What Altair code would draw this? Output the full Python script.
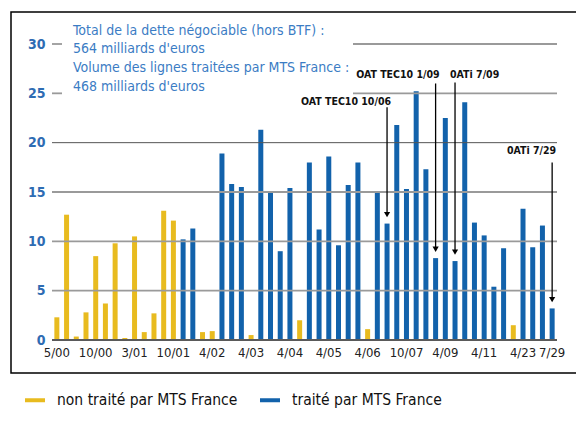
import altair as alt
import pandas as pd

# ---- data ----
values = [2.3, 12.7, 0.35, 2.8, 8.5, 3.7, 9.8, 0.2, 10.5, 0.8, 2.7, 13.1, 12.1,
          10.2, 11.3, 0.8, 0.9, 18.9, 15.8, 15.5, 0.5, 21.3, 15.1, 9.0, 15.4, 2.0,
          18.0, 11.2, 18.6, 9.6, 15.7, 18.0, 1.1, 15.1, 11.8, 21.8, 15.3, 25.2,
          17.3, 8.3, 22.5, 8.0, 24.1, 11.9, 10.6, 5.4, 9.3, 1.5, 13.3, 9.4, 11.6, 3.2]
# 0 = non traité, 1 = traité par MTS France
traded = [0, 0, 0, 0, 0, 0, 0, 0, 0, 0, 0, 0, 0,
          1, 1, 0, 0, 1, 1, 1, 0, 1, 1, 1, 1, 0,
          1, 1, 1, 1, 1, 1, 0, 1, 1, 1, 1, 1,
          1, 1, 1, 1, 1, 1, 1, 1, 1, 0, 1, 1, 1, 1]
status_names = ["non traité par MTS France", "traité par MTS France"]

tick_labels = ["5/00", "10/00", "3/01", "10/01", "4/02", "4/03", "4/04", "4/05",
               "4/06", "10/07", "4/09", "4/11", "4/23", "7/29"]
tick_bars = [0, 4, 8, 12, 16, 20, 24, 28, 32, 36, 40, 44, 48, 51]

ann_labels = ["OAT TEC10 10/06", "OAT TEC10 1/09", "0ATi 7/09", "0ATi 7/29"]
ann_bars = [34, 39, 41, 51]
ann_text_y = [23.8, 26.55, 26.55, 18.85]
ann_line_top = [23.6, 26.0, 26.1, 18.0]
ann_right = [True, True, False, True]

header_lines = ["Total de la dette négociable (hors BTF) :",
                "564 milliards d'euros",
                "Volume des lignes traitées par MTS France :",
                "468 milliards d'euros"]

grid_full = [5, 10, 15, 20]
grid_split = [25, 30]

# ---- styling ----
YELLOW = "#e8bb1f"
BLUE = "#1262ab"
TXTBLUE = "#3b7cc4"
FONT = "Liberation Sans Narrow, DejaVu Sans Condensed, Arial Narrow, sans-serif"
W, H = 505, 296

n = len(values)
bars = pd.DataFrame({"i": list(range(n)), "v": values,
                     "s": [status_names[t] for t in traded]})

lab_arr = [""] * n
for p, l in zip(tick_bars, tick_labels):
    lab_arr[p] = l
label_expr = "[" + ",".join("'" + s + "'" for s in lab_arr) + "][datum.value]"

xscale = alt.Scale(domain=list(range(n)), paddingInner=0, paddingOuter=0)
yscale = alt.Scale(domain=[0, 30], nice=False)

x_enc = alt.X("i:O", scale=xscale,
              axis=alt.Axis(values=tick_bars, labelExpr=label_expr, labelAngle=0,
                            ticks=False, domain=False, grid=False, labelPadding=6,
                            labelFont=FONT, labelFontSize=13, labelColor="#222",
                            title=""))
y_enc = alt.Y("v:Q", scale=yscale,
              axis=alt.Axis(values=[0, 5, 10, 15, 20, 25, 30], ticks=False,
                            domain=False, grid=False, labelPadding=7,
                            labelFont=FONT, labelFontSize=14, labelFontWeight="bold",
                            labelColor="#2e6cb3", title=""))

# bars (carry the axes and legend)
bar_layer = alt.Chart(bars).mark_bar(size=5).encode(
    x=x_enc, y=y_enc,
    color=alt.Color("s:N", scale=alt.Scale(domain=status_names, range=[YELLOW, BLUE]),
                    legend=alt.Legend(
                        title="", orient="none", legendX=-28, legendY=345,
                        direction="horizontal", columns=2,
                        symbolType="M-1,-0.2H1V0.2H-1Z", symbolSize=400,
                        labelFont=FONT, labelFontSize=15.5, labelColor="#111",
                        labelOffset=11, columnPadding=21, labelLimit=400)),
)

# frame
frame = alt.Chart(pd.DataFrame({"a": [0]})).mark_rect(
    fill=None, stroke="black", strokeWidth=1.5
).encode(x=alt.value(-41), x2=alt.value(560), y=alt.value(-32), y2=alt.value(329))

# gridlines
gfull = alt.Chart(pd.DataFrame({"v": grid_full})).mark_rule().encode(
    y=alt.Y("v:Q", scale=yscale),
    x=alt.value(0), x2=alt.value(W),
    color=alt.condition(alt.datum.v == 20, alt.value("#555555"), alt.value("#9a9a9a")),
    strokeWidth=alt.condition(alt.datum.v == 20, alt.value(1), alt.value(1.8)),
)
gs1 = alt.Chart(pd.DataFrame({"v": grid_split})).mark_rule(
    color="#9a9a9a", strokeWidth=1.8).encode(
    y=alt.Y("v:Q", scale=yscale), x=alt.value(0), x2=alt.value(10))
gs2 = alt.Chart(pd.DataFrame({"v": grid_split})).mark_rule(
    color="#9a9a9a", strokeWidth=1.8).encode(
    y=alt.Y("v:Q", scale=yscale), x=alt.value(301), x2=alt.value(W))

baseline = alt.Chart(pd.DataFrame({"v": [0]})).mark_rule(
    color="#5a5a5a", strokeWidth=2.2).encode(
    y=alt.Y("v:Q", scale=yscale), x=alt.value(0), x2=alt.value(W))

# annotations
ann = pd.DataFrame({
    "i": ann_bars, "label": ann_labels, "ty": ann_text_y, "top": ann_line_top,
    "right": ann_right,
    "tip": [values[b] + 0.9 for b in ann_bars],
})
ann_x = alt.X("i:O", scale=xscale)
arrows = alt.Chart(ann).mark_rule(color="black", strokeWidth=1.3).encode(
    x=ann_x, y=alt.Y("top:Q", scale=yscale), y2="tip:Q")
heads = alt.Chart(ann).mark_point(shape="triangle-down", filled=True, color="black",
                                  size=38, opacity=1).encode(
    x=ann_x, y=alt.Y("tip:Q", scale=yscale))
txt_r = alt.Chart(ann).transform_filter("datum.right").mark_text(
    align="right", baseline="alphabetic", dx=4, font=FONT, fontSize=10.5,
    fontWeight="bold", color="#111").encode(
    x=ann_x, y=alt.Y("ty:Q", scale=yscale), text="label:N")
txt_l = alt.Chart(ann).transform_filter("!datum.right").mark_text(
    align="left", baseline="alphabetic", dx=-5, font=FONT, fontSize=10.5,
    fontWeight="bold", color="#111").encode(
    x=ann_x, y=alt.Y("ty:Q", scale=yscale), text="label:N")

# header text (blue), positioned in data units from the top line downward
head_top, head_step = 30.96, 1.905
hdr = pd.DataFrame({"t": header_lines,
                    "y": [head_top - k * head_step for k in range(len(header_lines))]})
header = alt.Chart(hdr).mark_text(align="left", baseline="alphabetic", font=FONT,
                                  fontSize=14, color=TXTBLUE).encode(
    x=alt.value(21), y=alt.Y("y:Q", scale=yscale), text="t:N")

chart = alt.layer(bar_layer, frame, gfull, gs1, gs2, baseline, arrows, heads,
                  txt_r, txt_l, header).properties(
    width=W, height=H,
    autosize=alt.AutoSizeParams(type="none"),
    padding={"left": 44, "top": 36, "right": 19, "bottom": 73},
).configure_view(stroke=None)

chart.save("out.html", embed_options={"renderer": "svg", "actions": False})
